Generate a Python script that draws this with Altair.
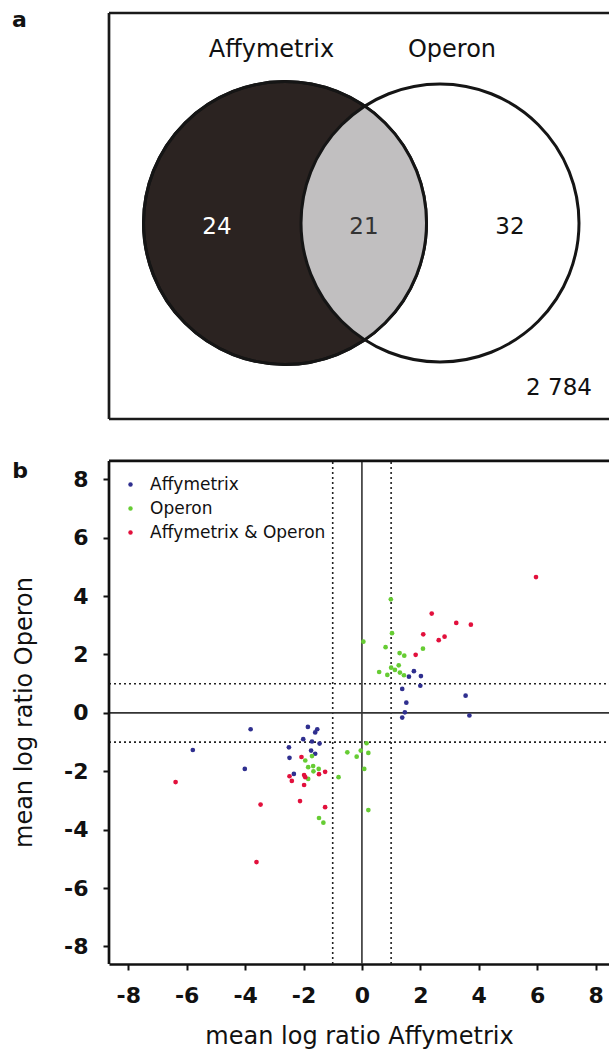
import altair as alt
import numpy as np
import pandas as pd

# ---------------- data ----------------
venn_sets = ["Affymetrix", "Operon"]
venn_counts = ["24", "21", "32"]          # Affymetrix only, both, Operon only
venn_rest = "2 784"
panel_tags = ["a", "b"]

groups = ["Affymetrix", "Operon", "Affymetrix & Operon"]
group_colors = ["#2f2f8f", "#66cc33", "#e2103c"]

affy_x = [1.78, 1.61, 2.02, 2.00, 1.38, 1.52, 1.47, 1.38, 3.55, 3.68,
          -3.81, -5.79, -4.01, -1.85, -1.53, -1.60, -2.01, -1.71, -1.45, -2.50,
          -1.74, -1.60, -2.48, -2.33]
affy_y = [1.43, 1.24, 1.26, 0.93, 0.82, 0.35, 0.02, -0.16, 0.59, -0.09,
          -0.56, -1.27, -1.92, -0.48, -0.56, -0.67, -0.90, -0.98, -1.05, -1.18,
          -1.29, -1.40, -1.54, -2.09]

oper_x = [0.99, 1.03, 0.05, 0.81, 1.29, 1.45, 2.09, 1.26, 0.59, 0.87, 1.13, 1.30, 1.44, 1.00,
          -1.94, -1.71, -1.84, -1.67, -1.48, -1.66, -1.84, -0.80, -0.50, -0.18, -0.04,
          0.16, 0.22, 0.08, 0.22, -1.47, -1.32]
oper_y = [3.89, 2.73, 2.44, 2.25, 2.05, 1.96, 2.20, 1.63, 1.40, 1.30, 1.47, 1.38, 1.29, 1.55,
          -1.63, -1.48, -1.86, -1.82, -1.92, -2.00, -2.26, -2.20, -1.35, -1.50, -1.29,
          -1.04, -1.37, -1.92, -3.33, -3.60, -3.76]

both_x = [5.96, 2.39, 3.23, 3.73, 2.10, 2.83, 2.63, 1.84,
          -6.38, -2.07, -2.48, -2.40, -1.98, -1.94, -1.98, -1.47, -1.26, -3.47, -2.12,
          -1.26, -3.61]
both_y = [4.65, 3.40, 3.08, 3.02, 2.69, 2.61, 2.49, 1.99,
          -2.37, -1.51, -2.17, -2.33, -2.13, -2.20, -2.47, -2.10, -2.02, -3.14, -3.02,
          -3.23, -5.11]

ticks = [-8, -6, -4, -2, 0, 2, 4, 6, 8]
cutoff = 1.0
x_title = "mean log ratio Affymetrix"
y_title = "mean log ratio Operon"

# ---------------- layout ----------------
FONT = "DejaVu Sans"
PL, PT, PR, PB = 109, 13, 609, 964          # plot rectangle on the page
W, H = PR - PL, PB - PT
XD = [-8.66, 8.46]
YD = [-8.6, 23.97]
Y_TOP = 8.63                                 # top edge of panel b in data units

xs = alt.Scale(domain=XD, nice=False, zero=False)
ys = alt.Scale(domain=YD, nice=False, zero=False)
vxs = alt.Scale(domain=[PL, PR], nice=False, zero=False)
vys = alt.Scale(domain=[PT, PB], nice=False, zero=False, reverse=True)

# ---------------- panel a : Venn ----------------
c1, r1 = (285.0, 223.0), 141.5
c2, r2 = (440.0, 223.0), 139.0
box_top, box_bottom = 13, 419

d = c2[0] - c1[0]
a = (d * d + r1 * r1 - r2 * r2) / (2 * d)
h = np.sqrt(r1 * r1 - a * a)
ix, iy = c1[0] + a, c1[1]
half = 150.0
pts = []
p2 = np.arcsin(h / r2)
for t in np.linspace(-p2, p2, 60):
    pts.append((c2[0] - r2 * np.cos(t), c2[1] + r2 * np.sin(t)))
p1 = np.arcsin(h / r1)
for t in np.linspace(p1, -p1, 60):
    pts.append((c1[0] + r1 * np.cos(t), c1[1] + r1 * np.sin(t)))
lens_path = "M" + " L".join(
    f"{(px - ix) / half:.4f},{(py - iy) / half:.4f}" for px, py in pts) + " Z"

circ_df = pd.DataFrame({"x": [c1[0], c2[0]], "y": [c1[1], c2[1]],
                        "s": [(2 * r1) ** 2, (2 * r2) ** 2]})
lens_df = pd.DataFrame({"x": [ix], "y": [iy], "s": [(2 * half) ** 2]})

VX = lambda f="x": alt.X(f"{f}:Q", scale=vxs, axis=None)
VY = lambda f="y": alt.Y(f"{f}:Q", scale=vys, axis=None)

left_fill = alt.Chart(circ_df.iloc[[0]]).mark_point(
    shape="circle", fill="#2b2321", stroke="#151515", strokeWidth=3,
    opacity=1, fillOpacity=1).encode(x=VX(), y=VY(), size=alt.Size("s:Q", scale=None))
lens = alt.Chart(lens_df).mark_point(
    shape=lens_path, filled=True, color="#c1bfc0", opacity=1, strokeWidth=0
).encode(x=VX(), y=VY(), size=alt.Size("s:Q", scale=None))
outlines = alt.Chart(circ_df).mark_point(
    shape="circle", filled=False, stroke="#151515", strokeWidth=3,
    opacity=1, fillOpacity=0).encode(x=VX(), y=VY(), size=alt.Size("s:Q", scale=None))

box_df = pd.DataFrame({"x": [PL, PL, PL], "x2": [PR, PL, PR],
                       "y": [box_top, box_top, box_bottom],
                       "y2": [box_top, box_bottom, box_bottom]})
box = alt.Chart(box_df).mark_rule(color="#1a1a1a", strokeWidth=2.7).encode(
    x=VX(), x2="x2:Q", y=VY(), y2="y2:Q")

set_df = pd.DataFrame({"t": venn_sets, "x": [271.5, 452.0], "y": [57, 57]})
set_txt = alt.Chart(set_df).mark_text(font=FONT, fontSize=24, color="#111",
                                      baseline="alphabetic").encode(
    x=VX(), y=VY(), text="t:N")

cnt_df = pd.DataFrame({"t": venn_counts + [venn_rest],
                       "x": [217.0, 364.0, 510.0, 559.0],
                       "y": [226.5, 226.5, 226.5, 388.0],
                       "c": ["#ffffff", "#333333", "#111111", "#111111"]})
cnt_txt = alt.Chart(cnt_df).mark_text(font=FONT, fontSize=23, baseline="middle").encode(
    x=VX(), y=VY(), text="t:N", color=alt.Color("c:N", scale=None))

tag_df = pd.DataFrame({"t": panel_tags, "x": [19.5, 20.0], "y": [27, 478]})
tag_txt = alt.Chart(tag_df).mark_text(font=FONT, fontSize=22, fontWeight="bold",
                                      color="#111", baseline="alphabetic").encode(
    x=VX(), y=VY(), text="t:N")

venn = alt.layer(box, left_fill, lens, outlines, set_txt, cnt_txt, tag_txt)

# ---------------- panel b : scatter ----------------
pts_df = pd.concat([
    pd.DataFrame({"x": affy_x, "y": affy_y, "g": groups[0]}),
    pd.DataFrame({"x": oper_x, "y": oper_y, "g": groups[1]}),
    pd.DataFrame({"x": both_x, "y": both_y, "g": groups[2]}),
], ignore_index=True)

LBL = "'' + datum.value"
x_axis = alt.Axis(values=ticks, orient="bottom", title=x_title, grid=False,
                  domainColor="#111", domainWidth=2.7, tickColor="#111", tickWidth=2,
                  tickSize=6, labelFont=FONT, labelFontSize=22, labelFontWeight="bold",
                  labelColor="#111", labelPadding=15, labelFlush=False, labelOverlap=False,
                  labelExpr=LBL,
                  titleFont=FONT, titleFontSize=24, titleFontWeight="normal",
                  titleColor="#111", titleBaseline="alphabetic", titleY=79)
y_axis = alt.Axis(values=ticks, orient="left", title=y_title, grid=False, domain=False,
                  tickColor="#111", tickWidth=2, tickSize=6, labelFont=FONT,
                  labelFontSize=22, labelFontWeight="bold", labelColor="#111",
                  labelPadding=15, labelFlush=False, labelOverlap=False,
                  labelExpr=LBL,
                  titleFont=FONT, titleFontSize=24, titleFontWeight="normal",
                  titleColor="#111", titleAngle=-90, titleBaseline="alphabetic",
                  titleX=-78, titleY=699)

points = alt.Chart(pts_df).mark_circle(size=22, opacity=1).encode(
    x=alt.X("x:Q", scale=xs, axis=x_axis),
    y=alt.Y("y:Q", scale=ys, axis=y_axis),
    color=alt.Color("g:N", scale=alt.Scale(domain=groups, range=group_colors),
                    legend=alt.Legend(title=None, orient="none", legendX=13, legendY=463,
                                      symbolType="circle", symbolSize=20,
                                      symbolStrokeWidth=0, labelFont=FONT,
                                      labelFontSize=17, labelColor="#111",
                                      labelLimit=400,
                                      labelOffset=11, rowPadding=6, padding=0)),
)

def rules(df, **kw):
    return alt.Chart(df).mark_rule(**kw).encode(
        x=alt.X("x:Q", scale=xs, axis=x_axis), x2="x2:Q",
        y=alt.Y("y:Q", scale=ys, axis=y_axis), y2="y2:Q")

solid_df = pd.DataFrame({"x": [0, XD[0]], "x2": [0, XD[1]],
                         "y": [YD[0], 0], "y2": [Y_TOP, 0]})
dot_df = pd.DataFrame({"x": [-cutoff, cutoff, XD[0], XD[0]],
                       "x2": [-cutoff, cutoff, XD[1], XD[1]],
                       "y": [YD[0], YD[0], -cutoff, cutoff],
                       "y2": [Y_TOP, Y_TOP, -cutoff, cutoff]})
frame_df = pd.DataFrame({"x": [XD[0], XD[0]], "x2": [XD[1], XD[0]],
                         "y": [Y_TOP, YD[0]], "y2": [Y_TOP, Y_TOP]})

scatter = alt.layer(
    rules(dot_df, color="#222", strokeWidth=1.6, strokeDash=[2, 3]),
    rules(solid_df, color="#333", strokeWidth=1.6),
    rules(frame_df, color="#111", strokeWidth=2.7),
    points,
)

chart = alt.layer(scatter, venn).resolve_scale(
    x="independent", y="independent"
).properties(
    width=W, height=H,
    padding={"left": PL, "top": PT, "right": 609 - PR, "bottom": 1051 - PB},
    autosize=alt.AutoSizeParams(type="none"),
    background="white",
).configure_view(stroke=None)

chart.save("out.html", embed_options={"renderer": "svg", "actions": False})
